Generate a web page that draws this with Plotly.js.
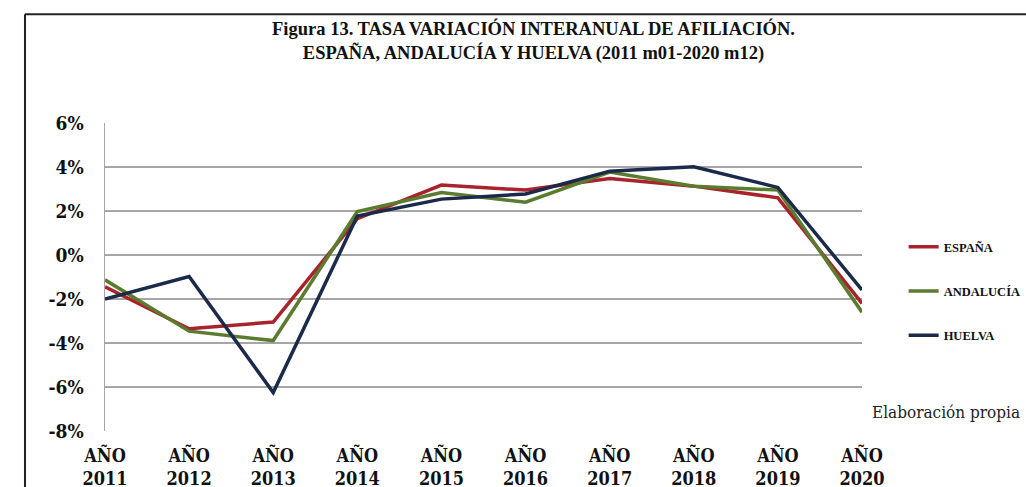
<!DOCTYPE html>
<html>
<head>
<meta charset="utf-8">
<script src="https://cdn.plot.ly/plotly-3.0.1.min.js"></script>
<style>
html,body{margin:0;padding:0;background:#fff;}
#chart{width:1026px;height:487px;}
</style>
</head>
<body>
<div id="chart"></div>
<script>
const years = [2011, 2012, 2013, 2014, 2015, 2016, 2017, 2018, 2019, 2020];
const tickLabels = years.map(y => 'AÑO<br>' + y);
const espana    = [-1.45, -3.35, -3.05, 1.65, 3.18, 2.95, 3.48, 3.13, 2.60, -2.20];
const andalucia = [-1.13, -3.46, -3.89, 1.97, 2.84, 2.40, 3.77, 3.13, 2.95, -2.60];
const huelva    = [-2.00, -0.98, -6.25, 1.77, 2.54, 2.77, 3.81, 4.01, 3.07, -1.59];
const seriesNames = ['ESPAÑA', 'ANDALUCÍA', 'HUELVA'];
const yTicks = [-8, -6, -4, -2, 0, 2, 4, 6];

const serifC = "'DejaVu Serif Condensed', 'DejaVu Serif', serif";
const serifL = "'Liberation Serif', 'Times New Roman', serif";

function mk(name, y, color) {
  return {
    x: years, y: y, name: name, type: 'scatter', mode: 'lines',
    line: {color: color, width: 3.5},
    legendgroup: name
  };
}
const data = [
  mk(seriesNames[0], espana, '#a8232b'),
  mk(seriesNames[1], andalucia, '#5b7b2f'),
  mk(seriesNames[2], huelva, '#1b2a4a')
];

const layout = {
  width: 1026, height: 487,
  margin: {l: 105, r: 164, t: 123, b: 56, autoexpand: false},
  paper_bgcolor: '#ffffff', plot_bgcolor: '#ffffff',
  title: {
    text: 'Figura 13. TASA VARIACIÓN INTERANUAL DE AFILIACIÓN.<br>ESPAÑA, ANDALUCÍA Y HUELVA (2011 m01-2020 m12)',
    font: {family: serifL, size: 18.5, color: '#111', weight: 'bold'},
    x: 0.52, xref: 'container', xanchor: 'center',
    y: 0.928, yref: 'container', yanchor: 'top'
  },
  xaxis: {
    range: [2011, 2020], tickmode: 'array', tickvals: years, ticktext: tickLabels,
    showgrid: false, zeroline: false, showline: false, ticks: '',
    ticklabelstandoff: 12,
    tickfont: {family: serifC, size: 18, color: '#111', weight: 'bold'},
    fixedrange: true
  },
  yaxis: {
    range: [-8, 6], tickmode: 'array', tickvals: yTicks,
    ticktext: yTicks.map(v => v + '%'),
    showgrid: true, gridcolor: '#a6a6a6', gridwidth: 1.5,
    zeroline: false, showline: true, linecolor: '#a6a6a6', linewidth: 1.5,
    ticks: '', ticklabelstandoff: 16,
    tickfont: {family: serifC, size: 19, color: '#111', weight: 'bold'},
    fixedrange: true
  },
  showlegend: true,
  legend: {
    x: 1.055, xanchor: 'left', y: 0.646, yanchor: 'top',
    traceorder: 'grouped', tracegroupgap: 25,
    font: {family: serifL, size: 12.5, color: '#111', weight: 'bold'},
    bgcolor: 'rgba(0,0,0,0)'
  },
  annotations: [{
    text: 'Elaboración propia', showarrow: false,
    xref: 'paper', yref: 'paper', x: 1.111, y: 0.0625,
    xanchor: 'center', yanchor: 'middle',
    font: {family: serifC, size: 17, color: '#222'}
  }],
  shapes: [
    {type: 'line', xref: 'paper', yref: 'paper', x0: -0.1057, x1: -0.1057, y0: -0.2, y1: 1.353,
     line: {color: '#222', width: 2}},
    {type: 'line', xref: 'paper', yref: 'paper', x0: -0.1057, x1: 1.23, y0: 1.353, y1: 1.353,
     line: {color: '#222', width: 2}}
  ]
};

Plotly.newPlot('chart', data, layout, {displayModeBar: false, staticPlot: true});
</script>
</body>
</html>
